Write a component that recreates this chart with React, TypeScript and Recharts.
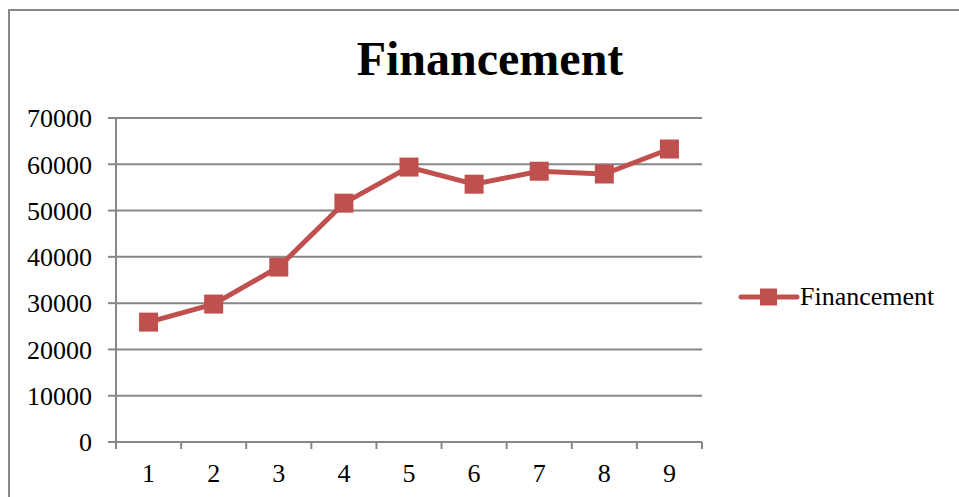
import { LineChart, Line, XAxis, YAxis, CartesianGrid } from "recharts";

const categories = [1, 2, 3, 4, 5, 6, 7, 8, 9];
const financement = [25900, 29800, 37800, 51600, 59400, 55700, 58500, 57900, 63300];
const yTicks = [0, 10000, 20000, 30000, 40000, 50000, 60000, 70000];
const xEdges = [0.5, 1.5, 2.5, 3.5, 4.5, 5.5, 6.5, 7.5, 8.5, 9.5];

const serif = '"Liberation Serif", "Times New Roman", serif';
const gris = "#878787";
const rouge = "#C0504D";

const donnees = categories.map((c, i) => ({ x: c, financement: financement[i] }));
const xTicks = [...categories, ...xEdges].sort((a, b) => a - b);

function TickX({ x, y, payload }: any) {
  const v = payload.value;
  if (Number.isInteger(v)) {
    return (
      <text x={x} y={y + 40} textAnchor="middle" fontSize={26} fontFamily={serif} fill="#000">
        {v}
      </text>
    );
  }
  return <line x1={x} x2={x} y1={y} y2={y + 7} stroke={gris} strokeWidth={2} />;
}

function Carre({ cx, cy }: any) {
  if (cx == null || cy == null) return null;
  return <rect x={cx - 9.5} y={cy - 9.5} width={19} height={19} fill={rouge} />;
}

// légende dessinée à part : le composant Legend de recharts réduit la zone du graphique
function Legende() {
  return (
    <div style={{ position: "absolute", left: 738, top: 282, display: "flex", alignItems: "center", fontFamily: serif, fontSize: 26, color: "#000" }}>
      <svg width={62} height={20} style={{ display: "block" }}>
        <line x1={3} x2={59} y1={10} y2={10} stroke={rouge} strokeWidth={5} strokeLinecap="round" />
        <rect x={22} y={1.5} width={17} height={17} fill={rouge} />
      </svg>
      <span>Financement</span>
    </div>
  );
}

export default function App() {
  return (
    <div style={{ position: "absolute", left: 0, top: 0, width: 959, height: 497, overflow: "hidden", background: "#fff" }}>
      <div style={{ position: "absolute", left: 8, top: 9, width: 970, height: 520, border: `2px solid ${gris}`, boxSizing: "border-box" }} />
      <div style={{ position: "absolute", left: 0, top: 35, width: 980, textAlign: "center", fontFamily: serif, fontWeight: "bold", fontSize: 48, lineHeight: "48px", color: "#000" }}>
        Financement
      </div>
      <LineChart width={959} height={497} data={donnees} margin={{ top: 118, right: 257, left: 0, bottom: 0 }}>
        <CartesianGrid vertical={false} stroke={gris} strokeWidth={2} />
        <XAxis
          dataKey="x"
          type="number"
          domain={[0.5, 9.5]}
          ticks={xTicks}
          interval={0}
          height={55}
          tickSize={0}
          tickMargin={0}
          tickLine={false}
          axisLine={{ stroke: gris, strokeWidth: 2 }}
          tick={<TickX />}
        />
        <YAxis
          domain={[0, 70000]}
          ticks={yTicks}
          interval={0}
          width={116}
          tickSize={8}
          tickMargin={16}
          tickLine={{ stroke: gris, strokeWidth: 2 }}
          axisLine={{ stroke: gris, strokeWidth: 2 }}
          tick={{ fill: "#000", fontSize: 26, fontFamily: serif }}
        />
        <Line
          type="linear"
          dataKey="financement"
          name="Financement"
          stroke={rouge}
          strokeWidth={5}
          dot={<Carre />}
          activeDot={false}
          isAnimationActive={false}
        />
      </LineChart>
      <Legende />
    </div>
  );
}
